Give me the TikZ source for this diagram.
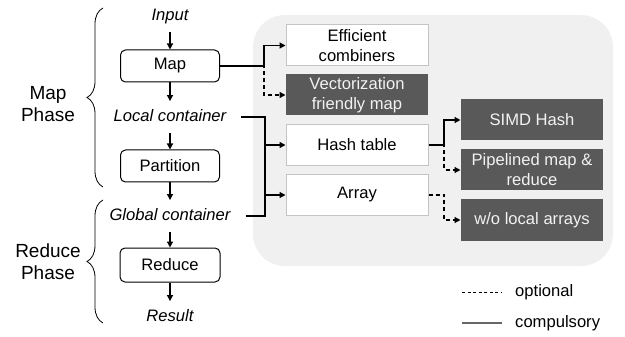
\documentclass[tikz,border=0pt]{standalone}
\usepackage{fontspec}
\setmainfont{Liberation Sans}
\usetikzlibrary{arrows.meta,decorations.pathreplacing}
\definecolor{panel}{HTML}{F0F0F0}
\definecolor{darkbox}{HTML}{595959}
\definecolor{lightborder}{HTML}{C4C4C4}
\definecolor{legline}{HTML}{666666}
\tikzset{
  conn/.style={line width=1.2pt, -{Triangle[length=6pt,width=6pt]}},
  dconn/.style={conn, dash pattern=on 4pt off 3pt},
  plain/.style={line width=1.2pt},
  txt/.style={font=\fontsize{16.6}{20}\selectfont, inner xsep=0pt, inner ysep=8pt, text height=12pt, text depth=3.5pt},
  itxt/.style={txt, font=\fontsize{16.6}{20}\selectfont\itshape},
  stepbox/.style={draw=black, line width=1pt, rounded corners=5pt, fill=white, minimum width=99pt, minimum height=32pt, font=\fontsize{16.6}{20}\selectfont, inner sep=0pt},
  wbox/.style={draw=lightborder, line width=1pt, fill=white, minimum width=142pt, minimum height=41pt, align=center, font=\fontsize{16.6}{20}\selectfont, inner sep=0pt},
  dbox/.style={wbox, draw=none, fill=darkbox, text=white!95!black},
  phase/.style={font=\fontsize{19}{22}\selectfont, align=center},
  brc/.style={decorate, decoration={brace, amplitude=16pt}, line width=0.8pt}
}
\begin{document}
\begin{tikzpicture}[x=1pt,y=-1pt]
\useasboundingbox (0,0) rectangle (625,337);
\fill[panel, rounded corners=32pt] (253,15) rectangle (613,266);

% left column
\node[itxt] (in) at (170,16) {Input};
\node[stepbox] (map) at (170,66) {Map};
\node[itxt] (lc) at (170,117) {Local container};
\node[stepbox] (part) at (170,166) {Partition};
\node[itxt] (gc) at (170,216) {Global container};
\node[stepbox, minimum width=100pt, minimum height=34pt] (red) at (170,265) {Reduce};
\node[itxt] (res) at (170,317) {Result};

\draw[conn] (in) -- (map);
\draw[conn] (map) -- (lc);
\draw[conn] (lc) -- (part);
\draw[conn] (part) -- (gc);
\draw[conn] (gc) -- (red);
\draw[conn] (red) -- (res);

% braces
\draw[brc] (103,187) -- (103,8);
\draw[brc] (103,323) -- (103,200);
\node[phase] (mp) at (48,104) {Map\\Phase};
\node[phase] (rp) at (48,262) {Reduce\\Phase};

% middle column
\node[wbox] (eff) at (357,45.5) {Efficient\\combiners};
\node[dbox] (vec) at (357,95) {Vectorization\\friendly map};
\node[wbox] (hash) at (357,145) {Hash table};
\node[wbox] (arr) at (357,195) {Array};

% right column
\node[dbox] (simd) at (532,120) {SIMD Hash};
\node[dbox] (pipe) at (532,170) {Pipelined map \&\\reduce};
\node[dbox] (wo) at (532,220) {w/o local arrays};

% connectors
\draw[dconn] (map.east) -- (264,66) |- (vec.west);
\draw[conn] (map.east) -- (264,66) |- (eff.west);
\draw[conn, shorten <=15pt] (lc.east) -- (265,117) |- (hash.west);
\draw[conn, shorten <=15pt] (gc.east) -- (265,216) |- (arr.west);
\draw[plain] (265,145) -- (265,196);
\draw[dconn] (hash.east) -- (444,145) |- (pipe.west);
\draw[conn] (hash.east) -- (444,145) |- (simd.west);
\draw[dconn] (arr.east) -- (444,195) |- (wo.west);

% legend
\coordinate (l1a) at (462,292);
\coordinate (l1b) at (502,292);
\coordinate (l2a) at (462,323);
\coordinate (l2b) at (502,323);
\draw[line width=0.9pt, dash pattern=on 3pt off 2.5pt] (l1a) -- (l1b);
\draw[line width=1.2pt, legline] (l2a) -- (l2b);
\node[txt, anchor=west] (opt) at (515,292) {optional};
\node[txt, anchor=west] (comp) at (515,323) {compulsory};
\end{tikzpicture}
\end{document}
